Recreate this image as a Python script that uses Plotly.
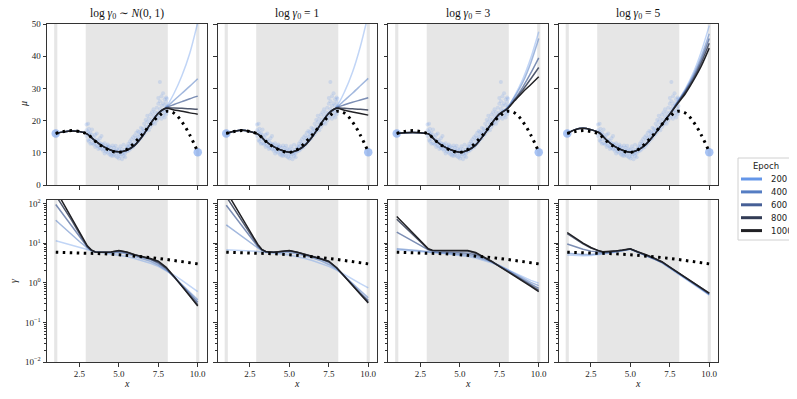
import plotly.graph_objects as go
from plotly.subplots import make_subplots

# ---------------- data ----------------
x_grid = [1.0, 1.5, 2.0, 2.5, 3.0, 3.25, 3.5, 4.0, 4.5, 5.0, 5.5, 6.0, 6.5, 7.0, 7.5, 8.0, 8.5, 9.0, 9.5, 10.0]
epochs = [200, 400, 600, 800, 1000]
panel_titles = [
    "log <i>γ</i><sub>0</sub> ∼ <i>N</i>(0, 1)",
    "log <i>γ</i><sub>0</sub> = 1",
    "log <i>γ</i><sub>0</sub> = 3",
    "log <i>γ</i><sub>0</sub> = 5",
]
bands = [[0.9, 1.1], [2.9, 8.1], [9.9, 10.1]]

true_x = [1.0, 1.5, 2.0, 2.5, 3.0, 3.5, 4.0, 4.5, 5.0, 5.5, 6.0, 6.5, 7.0, 7.5, 8.0, 8.5, 9.0, 9.5, 10.0]
true_mu = [16.0, 16.6, 16.9, 16.6, 15.8, 13.6, 11.8, 10.6, 10.1, 11.0, 13.2, 15.8, 18.8, 21.3, 22.9, 22.3, 19.6, 15.5, 10.3]
true_gx = [1, 2, 3, 4, 5, 6, 7, 8, 9, 10]
true_gamma = [5.9, 5.8, 5.6, 5.4, 5.1, 4.75, 4.35, 3.9, 3.45, 3.0]

edge_x = [1.0, 10.0]
edge_y = [16.0, 10.2]

obs_x = [2.95, 2.95, 2.95, 3.05, 3.05, 3.05, 3.1, 3.1, 3.1, 3.2, 3.2, 3.2, 3.3, 3.3, 3.3,
         3.4, 3.4, 3.4, 3.5, 3.5, 3.5, 3.6, 3.6, 3.6, 3.7, 3.7, 3.7, 3.8, 3.8, 3.8,
         3.9, 3.9, 3.9, 4.0, 4.0, 4.0, 4.1, 4.1, 4.1, 4.2, 4.2, 4.2, 4.3, 4.3, 4.3,
         4.4, 4.4, 4.4, 4.5, 4.5, 4.5, 4.6, 4.6, 4.6, 4.7, 4.7, 4.7, 4.8, 4.8, 4.8,
         4.9, 4.9, 4.9, 5.0, 5.0, 5.0, 5.1, 5.1, 5.1, 5.2, 5.2, 5.2, 5.3, 5.3, 5.3,
         5.4, 5.4, 5.4, 5.5, 5.5, 5.5, 5.6, 5.6, 5.6, 5.7, 5.7, 5.7, 5.8, 5.8, 5.8,
         5.9, 5.9, 5.9, 6.0, 6.0, 6.0, 6.1, 6.1, 6.1, 6.2, 6.2, 6.2, 6.3, 6.3, 6.3,
         6.4, 6.4, 6.4, 6.5, 6.5, 6.5, 6.6, 6.6, 6.6, 6.7, 6.7, 6.7, 6.8, 6.8, 6.8,
         6.9, 6.9, 6.9, 7.0, 7.0, 7.0, 7.1, 7.1, 7.1, 7.2, 7.2, 7.2, 7.3, 7.3, 7.3,
         7.4, 7.4, 7.4, 7.5, 7.5, 7.5, 7.5, 7.6, 7.6, 7.6, 7.6, 7.7, 7.7, 7.7, 7.7,
         7.8, 7.8, 7.8, 7.8, 7.9, 7.9, 7.9, 7.9, 8.0, 8.0, 8.0, 8.0, 8.05, 8.05, 8.05]
obs_y = [15.2, 17.0, 18.8, 16.5, 14.0, 19.0, 15.8, 13.5, 17.5, 14.2, 16.2, 12.8, 15.5, 13.0, 17.2,
         14.8, 12.6, 13.9, 13.0, 15.6, 11.8, 14.0, 12.2, 16.0, 12.0, 13.6, 11.2, 13.0, 11.5, 14.5,
         11.2, 12.8, 15.2, 12.5, 10.6, 11.8, 11.0, 13.0, 9.8, 12.0, 10.4, 11.5, 10.0, 11.8, 12.6,
         10.8, 9.5, 12.0, 11.5, 9.2, 10.2, 10.0, 12.3, 9.0, 10.8, 9.4, 11.6, 9.0, 10.5, 12.2,
         10.0, 8.6, 11.2, 9.5, 11.0, 8.2, 10.3, 9.0, 12.0, 11.2, 9.6, 8.0, 10.0, 12.5, 9.0,
         11.0, 9.8, 8.6, 12.0, 10.5, 11.3, 10.6, 12.8, 11.8, 12.2, 11.0, 13.5, 13.0, 11.6, 14.2,
         12.6, 14.8, 11.8, 13.8, 12.4, 15.4, 14.5, 13.0, 16.2, 15.0, 13.6, 16.8, 14.2, 16.5, 15.6,
         16.0, 14.6, 17.8, 15.4, 17.5, 16.6, 17.0, 15.8, 19.0, 18.2, 16.5, 20.2, 17.5, 19.6, 21.5,
         18.6, 20.6, 17.0, 19.5, 21.8, 18.0, 20.4, 18.8, 22.6, 19.6, 21.5, 23.5, 20.8, 22.6, 19.0,
         21.6, 24.0, 20.0, 22.5, 20.8, 25.2, 27.0, 21.5, 23.6, 26.0, 32.0, 22.8, 24.6, 20.6, 27.6,
         23.2, 25.4, 21.6, 28.5, 22.4, 24.8, 26.6, 21.0, 23.6, 25.8, 22.0, 27.2, 24.5, 26.8, 22.8]

# mean predictions: shared part (x = 1 .. 7.5) + per-epoch part (x = 8 .. 10)
mu_base_p1 = [16.0, 16.5, 16.8, 16.6, 15.8, 14.8, 13.7, 12.0, 10.8, 10.3, 10.8, 12.3, 15.2, 19.0, 22.3]
mu_tail_p1 = [[24.3, 28.5, 34.0, 41.0, 50.5],
              [24.1, 26.3, 28.5, 30.7, 33.0],
              [24.0, 25.0, 25.9, 26.8, 27.6],
              [23.9, 23.9, 23.8, 23.7, 23.5],
              [23.8, 23.3, 22.9, 22.4, 22.0]]
mu_base_p2 = [16.0, 16.7, 17.0, 16.6, 15.8, 14.8, 13.6, 11.9, 10.8, 10.2, 10.8, 12.4, 15.3, 19.0, 22.3]
mu_tail_p2 = [[24.4, 29.0, 35.0, 43.0, 53.0],
              [24.1, 26.3, 28.5, 30.8, 33.1],
              [24.0, 24.9, 25.7, 26.4, 27.1],
              [23.9, 23.8, 23.7, 23.5, 23.3],
              [23.8, 23.2, 22.7, 22.2, 21.7]]
mu_base_p3 = [16.0, 16.2, 16.3, 16.2, 15.9, 14.8, 13.6, 11.9, 10.8, 10.2, 10.8, 12.4, 15.4, 19.0, 22.0]
mu_tail_p3 = [[24.0, 28.0, 33.0, 39.5, 47.6],
              [23.9, 27.6, 32.0, 38.0, 45.5],
              [23.8, 26.8, 30.5, 34.8, 39.5],
              [23.7, 26.6, 29.6, 33.0, 36.5],
              [23.6, 26.3, 28.9, 31.2, 33.6]]
mu_base_p4 = [16.0, 17.2, 17.6, 17.2, 16.3, 15.2, 13.9, 12.0, 10.8, 10.2, 10.9, 12.7, 15.5, 18.8, 22.0]
mu_tail_p4 = [[26.0, 30.0, 35.0, 41.5, 49.5],
              [25.9, 29.6, 34.2, 40.0, 47.0],
              [25.7, 29.3, 33.6, 39.0, 45.5],
              [25.5, 29.0, 33.0, 38.0, 44.0],
              [25.3, 28.5, 32.5, 37.0, 42.5]]

gamma_p1 = [[11.5, 10.2, 9.0, 7.9, 7.0, 6.5, 6.1, 5.7, 5.3, 5.0, 4.6, 4.1, 3.6, 3.1, 2.6, 2.05, 1.55, 1.15, 0.82, 0.6],
            [38, 25, 16.5, 11, 7.6, 6.5, 6.0, 5.8, 5.7, 5.8, 5.4, 4.7, 4.1, 3.5, 2.8, 2.1, 1.4, 0.9, 0.58, 0.37],
            [95, 52, 28, 15, 8.0, 6.6, 6.0, 5.9, 5.9, 6.2, 5.7, 5.0, 4.5, 3.9, 3.1, 2.25, 1.4, 0.85, 0.52, 0.32],
            [160, 80, 38, 17.5, 8.2, 6.7, 6.0, 5.9, 6.0, 6.4, 5.9, 5.1, 4.6, 4.0, 3.3, 2.35, 1.4, 0.82, 0.49, 0.28],
            [220, 98, 44, 19.5, 8.6, 6.8, 6.0, 5.9, 6.0, 6.5, 6.0, 5.1, 4.6, 4.1, 3.5, 2.45, 1.45, 0.82, 0.47, 0.26]]
gamma_p2 = [[6.8, 6.7, 6.6, 6.4, 6.2, 6.0, 5.9, 5.6, 5.3, 5.0, 4.6, 4.1, 3.6, 3.1, 2.6, 2.1, 1.6, 1.2, 0.95, 0.74],
            [29, 20.5, 14.5, 10.5, 7.6, 6.6, 6.0, 5.8, 5.7, 5.8, 5.4, 4.8, 4.2, 3.6, 2.9, 2.2, 1.45, 0.95, 0.62, 0.42],
            [91, 50, 27, 15, 8.2, 6.8, 6.1, 5.9, 6.0, 6.3, 5.8, 5.1, 4.6, 4.0, 3.3, 2.35, 1.45, 0.88, 0.56, 0.36],
            [150, 75, 37, 18, 8.8, 6.9, 6.1, 5.9, 6.1, 6.4, 5.9, 5.2, 4.6, 4.1, 3.4, 2.4, 1.45, 0.86, 0.52, 0.33],
            [205, 96, 44, 20, 9.3, 7.0, 6.2, 5.9, 6.1, 6.5, 5.9, 5.2, 4.7, 4.1, 3.5, 2.4, 1.45, 0.86, 0.51, 0.31]]
gamma_p3 = [[6.8, 6.6, 6.4, 6.2, 5.9, 5.8, 5.7, 5.5, 5.2, 5.0, 4.6, 4.2, 3.7, 3.2, 2.7, 2.2, 1.75, 1.4, 1.15, 0.98],
            [7.2, 7.0, 6.7, 6.4, 6.1, 6.0, 5.9, 5.7, 5.5, 5.3, 5.0, 4.6, 4.0, 3.4, 2.75, 2.15, 1.65, 1.3, 1.02, 0.85],
            [19, 14.5, 11.2, 8.8, 6.8, 6.3, 6.1, 6.0, 5.9, 5.8, 5.6, 5.1, 4.3, 3.4, 2.65, 2.05, 1.55, 1.2, 0.93, 0.72],
            [40, 26, 17, 11, 7.0, 6.5, 6.4, 6.4, 6.4, 6.4, 6.3, 5.6, 4.5, 3.5, 2.65, 2.0, 1.5, 1.12, 0.84, 0.64],
            [47, 29.5, 18.5, 11.6, 7.2, 6.6, 6.5, 6.5, 6.5, 6.5, 6.5, 5.8, 4.6, 3.5, 2.6, 1.96, 1.46, 1.09, 0.81, 0.6]]
gamma_p4 = [[5.0, 4.8, 4.8, 4.9, 5.1, 5.3, 5.5, 5.9, 6.4, 7.0, 5.8, 4.9, 4.0, 3.2, 2.35, 1.75, 1.28, 0.93, 0.68, 0.49],
            [5.6, 5.3, 5.2, 5.2, 5.4, 5.5, 5.6, 6.0, 6.5, 7.1, 5.9, 5.0, 4.05, 3.25, 2.4, 1.78, 1.3, 0.95, 0.7, 0.5],
            [9.5, 8.0, 7.0, 6.3, 5.9, 5.8, 5.8, 6.1, 6.5, 7.1, 5.9, 5.0, 4.1, 3.3, 2.45, 1.8, 1.32, 0.97, 0.71, 0.52],
            [17.5, 12.8, 9.6, 7.5, 6.3, 6.0, 6.0, 6.2, 6.6, 7.1, 5.95, 5.1, 4.15, 3.35, 2.5, 1.85, 1.36, 1.0, 0.73, 0.54],
            [18.6, 13.5, 10.0, 7.8, 6.4, 6.1, 6.1, 6.3, 6.7, 7.2, 6.0, 5.15, 4.2, 3.4, 2.5, 1.86, 1.37, 1.01, 0.74, 0.55]]

x_ticks = [2.5, 5.0, 7.5, 10.0]
x_ticktext = ["2.5", "5.0", "7.5", "10.0"]
mu_ticks = [0, 10, 20, 30, 40, 50]
gamma_ticks = [0.01, 0.1, 1, 10, 100]
gamma_ticktext = ["10<sup>−2</sup>", "10<sup>−1</sup>", "10<sup>0</sup>", "10<sup>1</sup>", "10<sup>2</sup>"]

# ---------------- style ----------------
epoch_rgb = [(100, 150, 232), (85, 125, 195), (70, 95, 150), (50, 60, 85), (32, 32, 36)]
epoch_alpha = [0.4, 0.55, 0.7, 0.85, 1.0]
SERIF = "Liberation Serif, DejaVu Serif, serif"
SANS = "DejaVu Sans, Liberation Sans, sans-serif"
AX = "#333333"
BAND = "#e6e6e6"
DOTS = "2.5px,4.5px"

# the page body has an 8px margin: lay everything out in window pixels and convert
OFF = 8
FW, FH = 789, 391


def px(xw):
    return (xw - OFF) / FW


def py(yw):
    return 1 - (yw - OFF) / FH


mu_bases = [mu_base_p1, mu_base_p2, mu_base_p3, mu_base_p4]
mu_tails = [mu_tail_p1, mu_tail_p2, mu_tail_p3, mu_tail_p4]
gammas = [gamma_p1, gamma_p2, gamma_p3, gamma_p4]

fig = make_subplots(rows=2, cols=4)

for c in range(4):
    fig.add_trace(go.Scatter(x=obs_x, y=obs_y, mode="markers",
                             marker=dict(size=4, color="rgba(100,149,237,0.2)", line=dict(width=0)),
                             showlegend=False, hoverinfo="skip"), row=1, col=c + 1)
    fig.add_trace(go.Scatter(x=edge_x, y=edge_y, mode="markers",
                             marker=dict(size=8.5, color="rgba(100,149,237,0.55)", line=dict(width=0)),
                             showlegend=False, hoverinfo="skip"), row=1, col=c + 1)
    for i, ep in enumerate(epochs):
        r, g, b = epoch_rgb[i]
        col = f"rgba({r},{g},{b},{epoch_alpha[i]})"
        fig.add_trace(go.Scatter(x=x_grid, y=mu_bases[c] + mu_tails[c][i], mode="lines",
                                 line=dict(color=col, width=1.5, shape="spline", smoothing=0.8),
                                 showlegend=False, hoverinfo="skip"), row=1, col=c + 1)
        fig.add_trace(go.Scatter(x=x_grid, y=gammas[c][i], mode="lines",
                                 line=dict(color=col, width=1.5),
                                 showlegend=False, hoverinfo="skip"), row=2, col=c + 1)
    fig.add_trace(go.Scatter(x=true_x, y=true_mu, mode="lines",
                             line=dict(color="black", width=3, dash=DOTS, shape="spline"),
                             showlegend=False, hoverinfo="skip"), row=1, col=c + 1)
    fig.add_trace(go.Scatter(x=true_gx, y=true_gamma, mode="lines",
                             line=dict(color="black", width=3, dash=DOTS),
                             showlegend=False, hoverinfo="skip"), row=2, col=c + 1)

lefts = [47 + 170.5 * c for c in range(4)]
pw = 159.5
top_dom = [py(185), py(24)]
bot_dom = [py(362), py(200)]
tickfont = dict(family=SERIF, size=9, color="#222")

shapes = []
annotations = []
for c in range(4):
    xd = [px(lefts[c]), px(lefts[c] + pw)]
    for rrow in range(2):
        n = rrow * 4 + c + 1
        sfx = "" if n == 1 else str(n)
        fig.layout["xaxis" + sfx].update(
            domain=xd, range=[0.445, 10.555], autorange=False, tickmode="array", tickvals=x_ticks,
            ticktext=x_ticktext, showticklabels=(rrow == 1), ticks="outside", ticklen=3.5,
            tickwidth=1, tickcolor=AX, showline=True, linecolor=AX, linewidth=1, mirror=True,
            showgrid=False, zeroline=False, tickfont=tickfont)
        if rrow == 0:
            fig.layout["yaxis" + sfx].update(
                domain=top_dom, range=[0, 50], autorange=False, tickmode="array", tickvals=mu_ticks,
                showticklabels=(c == 0), ticks="outside", ticklen=3.5, tickwidth=1, tickcolor=AX,
                showline=True, linecolor=AX, linewidth=1, mirror=True, showgrid=False, zeroline=False,
                tickfont=tickfont)
        else:
            minor_vals = [m * 10 ** e for e in range(-2, 3) for m in range(2, 10)]
            fig.layout["yaxis" + sfx].update(
                domain=bot_dom, type="log", range=[-2, 2.09], autorange=False, tickmode="array",
                tickvals=gamma_ticks, ticktext=gamma_ticktext, showticklabels=(c == 0),
                ticks="outside", ticklen=3.5, tickwidth=1, tickcolor=AX,
                minor=dict(tickmode="array", tickvals=minor_vals, ticks="outside", ticklen=2,
                           tickwidth=0.6, tickcolor=AX, showgrid=False),
                showline=True, linecolor=AX, linewidth=1, mirror=True, showgrid=False, zeroline=False,
                tickfont=tickfont)
        for b0, b1 in bands:
            shapes.append(dict(type="rect", xref="x" + sfx, yref="y" + sfx + " domain",
                               x0=b0, x1=b1, y0=0, y1=1, fillcolor=BAND, line=dict(width=0),
                               layer="below"))
    annotations.append(dict(text=panel_titles[c], x=px(lefts[c] + pw / 2), y=top_dom[1],
                            xref="paper", yref="paper", xanchor="center", yanchor="bottom",
                            yshift=1, showarrow=False, font=dict(family=SERIF, size=11.5, color="#111")))
    annotations.append(dict(text="<i>x</i>", x=px(lefts[c] + pw / 2), y=py(383),
                            xref="paper", yref="paper", xanchor="center", yanchor="middle",
                            showarrow=False, font=dict(family=SERIF, size=10, color="#222")))

annotations.append(dict(text="<i>μ</i>", x=px(23), y=py(104), xref="paper", yref="paper",
                        xanchor="center", yanchor="middle", textangle=-90, showarrow=False,
                        font=dict(family=SERIF, size=10, color="#222")))
annotations.append(dict(text="<i>γ</i>", x=px(13), y=py(281), xref="paper", yref="paper",
                        xanchor="center", yanchor="middle", textangle=-90, showarrow=False,
                        font=dict(family=SERIF, size=10, color="#222")))

# legend drawn as a boxed key
leg_box = [738, 158, 793, 240]
shapes.append(dict(type="rect", xref="paper", yref="paper",
                   x0=px(leg_box[0]), x1=px(leg_box[2]), y0=py(leg_box[3]), y1=py(leg_box[1]),
                   fillcolor="white", line=dict(color="#d0d0d0", width=1), layer="above"))
annotations.append(dict(text="Epoch", x=px(765.5), y=py(166), xref="paper", yref="paper",
                        xanchor="center", yanchor="middle", showarrow=False,
                        font=dict(family=SANS, size=8.5, color="#222")))
for i, ep in enumerate(epochs):
    yy = 179 + 12.9 * i
    r, g, b = epoch_rgb[i]
    shapes.append(dict(type="line", xref="paper", yref="paper", x0=px(741), x1=px(762),
                       y0=py(yy), y1=py(yy), line=dict(color=f"rgb({r},{g},{b})", width=3),
                       layer="above"))
    annotations.append(dict(text=str(ep), x=px(768.5), y=py(yy), xref="paper", yref="paper",
                            xanchor="left", yanchor="middle", showarrow=False,
                            font=dict(family=SANS, size=8.5, color="#222")))

fig.update_layout(
    width=FW, height=FH, margin=dict(l=0, r=0, t=0, b=0, autoexpand=False),
    paper_bgcolor="white", plot_bgcolor="white", showlegend=False,
    shapes=shapes, annotations=annotations,
)

fig.write_html("out.html")
